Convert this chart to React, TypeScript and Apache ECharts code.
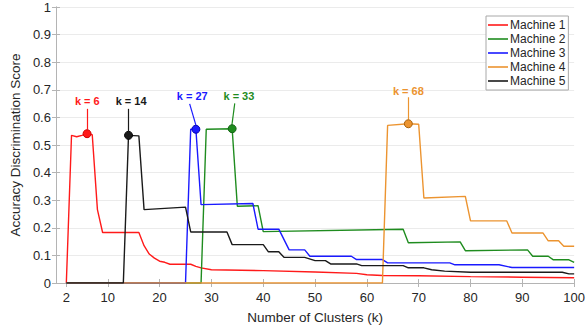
import React, { useEffect, useRef } from "react";
import * as echarts from "echarts";

const seriesNames = ["Machine 1", "Machine 2", "Machine 3", "Machine 4", "Machine 5"];

const machine1: [number, number][] = [
  [2, 0], [3, 0.535], [4, 0.53], [5, 0.535], [6, 0.541], [7, 0.537], [8, 0.266], [9, 0.183],
  [16, 0.183], [17, 0.135], [18, 0.105], [19, 0.09], [20, 0.079], [21, 0.075], [22, 0.068],
  [26, 0.068], [27, 0.06], [28, 0.055], [30, 0.048], [40, 0.045], [50, 0.04], [58, 0.035],
  [60, 0.03], [63, 0.027], [70, 0.026], [80, 0.023], [90, 0.021], [100, 0.019],
];
const machine2: [number, number][] = [
  [2, 0], [28, 0], [29, 0.557], [34, 0.559], [35, 0.278], [39, 0.28], [40, 0.186], [67, 0.195],
  [68, 0.146], [78, 0.149], [79, 0.117], [91, 0.12], [92, 0.097], [95, 0.097], [96, 0.084],
  [99, 0.084], [100, 0.075],
];
const machine3: [number, number][] = [
  [2, 0], [25, 0], [26, 0.557], [27, 0.557], [28, 0.284], [38, 0.288], [39, 0.195], [43, 0.195],
  [45, 0.12], [48, 0.12], [49, 0.097], [57, 0.097], [58, 0.085], [63, 0.085], [64, 0.073],
  [76, 0.073], [77, 0.066], [85.5, 0.066], [88, 0.056], [100, 0.056],
];
const machine4: [number, number][] = [
  [2, 0], [63, 0], [64, 0.571], [68, 0.577], [70, 0.575], [71, 0.308], [79, 0.314], [80, 0.225],
  [87, 0.225], [88, 0.181], [94, 0.181], [95, 0.153], [97, 0.153], [98, 0.133], [100, 0.133],
];
const machine5: [number, number][] = [
  [2, 0], [13, 0], [14, 0.535], [16, 0.533], [17, 0.266], [25, 0.275], [26, 0.185], [33, 0.185],
  [34, 0.139], [40, 0.139], [41, 0.113], [43, 0.113], [44, 0.093], [48, 0.093], [50, 0.081],
  [52, 0.081], [53, 0.069], [58, 0.069], [59, 0.063], [67, 0.063], [68, 0.055], [71, 0.055],
  [72.5, 0.048], [75, 0.043], [80, 0.039], [97.7, 0.039], [99, 0.033], [100, 0.033],
];
const allSeries = [machine1, machine2, machine3, machine4, machine5];

const peakK = [6, 34, 27, 68, 14];
const peakLabels = ["k = 6", "k = 33", "k = 27", "k = 68", "k = 14"];
const labelAt: [number, number][] = [[6.05, 0.659], [35.3, 0.676], [26.3, 0.676], [68, 0.694], [14.5, 0.66]];
const arrowFrom: [number, number][] = [[6, 0.631], [34.5, 0.651], [25.8, 0.649], [68, 0.673], [14, 0.631]];
const arrowTo: [number, number][] = [[6, 0.556], [33.95, 0.572], [27, 0.572], [68, 0.592], [14, 0.55]];

const xTicks = [2, 10, 20, 30, 40, 50, 60, 70, 80, 90, 100];

const colors = ["#ff1a1a", "#1f8c1f", "#1a1aff", "#ec9430", "#1a1a1a"];
const dotBorders = ["#d00000", "#146414", "#0000b0", "#a8600a", "#000000"];

const FONT = "Liberation Sans, Arial, Helvetica, sans-serif";
const AXIS_COLOR = "#b4b4b4";
const TEXT_COLOR = "#262626";

export default function App() {
  const ref = useRef<HTMLDivElement>(null);
  useEffect(() => {
    if (!ref.current) return;
    const chart = echarts.init(ref.current, undefined, { renderer: "svg" });

    const lineSeries = allSeries.map((data, i) => {
      const peak = data.find((p) => p[0] === peakK[i]) as [number, number];
      return {
        name: seriesNames[i],
        type: "line",
        data,
        symbol: "none",
        showSymbol: false,
        color: colors[i],
        lineStyle: { color: colors[i], width: 1.4 },
        xAxisIndex: 0,
        yAxisIndex: 0,
        markLine: {
          silent: true,
          symbol: ["none", "arrow"],
          symbolSize: [0, 6],
          label: { show: false },
          lineStyle: { color: colors[i], width: 1.2, type: "solid" },
          emphasis: { disabled: true },
          data: [[{ coord: arrowFrom[i] }, { coord: arrowTo[i] }]],
        },
        markPoint: {
          silent: true,
          data: [
            {
              coord: peak,
              symbol: "circle",
              symbolSize: 8,
              itemStyle: { color: colors[i], borderColor: dotBorders[i], borderWidth: 1 },
              label: { show: false },
            },
            {
              coord: labelAt[i],
              symbol: "circle",
              symbolSize: 1,
              itemStyle: { color: "rgba(0,0,0,0)" },
              label: {
                show: true,
                position: "inside",
                formatter: peakLabels[i],
                color: colors[i],
                fontFamily: FONT,
                fontWeight: "bold",
                fontSize: 11,
              },
            },
          ],
        },
      };
    });

    const option: any = {
      animation: false,
      backgroundColor: "#ffffff",
      textStyle: { fontFamily: FONT },
      grid: { left: 50, right: 9, top: 7, bottom: 43, containLabel: false },
      legend: {
        data: seriesNames.map((n) => ({ name: n, icon: "rect" })),
        orient: "vertical",
        left: 486,
        top: 16,
        padding: [3, 3, 3, 2],
        itemGap: 2,
        itemWidth: 20,
        itemHeight: 1.6,
        backgroundColor: "#ffffff",
        borderColor: "#a8a8a8",
        borderWidth: 1,
        textStyle: { fontFamily: FONT, fontSize: 12, color: TEXT_COLOR, padding: [0, 0, 0, -3], lineHeight: 12 },
        selectedMode: false,
      },
      xAxis: [
        {
          type: "value",
          min: 0,
          max: 100,
          position: "bottom",
          name: "Number of Clusters (k)",
          nameLocation: "middle",
          nameGap: 27,
          nameTextStyle: { fontFamily: FONT, fontSize: 13.5, color: TEXT_COLOR },
          axisLine: { show: true, lineStyle: { color: AXIS_COLOR, width: 1 } },
          axisTick: { show: true, inside: true, length: 4, customValues: xTicks, lineStyle: { color: AXIS_COLOR } },
          axisLabel: { customValues: xTicks, color: TEXT_COLOR, fontSize: 13, fontFamily: FONT, margin: 8 },
          splitLine: { show: false },
        },
        {
          type: "value",
          min: 0,
          max: 100,
          position: "top",
          axisLine: { show: true, lineStyle: { color: AXIS_COLOR, width: 1 } },
          axisTick: { show: true, inside: true, length: 4, customValues: xTicks, lineStyle: { color: AXIS_COLOR } },
          axisLabel: { show: false },
          splitLine: { show: false },
        },
      ],
      yAxis: [
        {
          type: "value",
          min: 0,
          max: 1,
          interval: 0.1,
          position: "left",
          name: "Accuracy Discrimination Score",
          nameLocation: "middle",
          nameGap: 22,
          nameTextStyle: { fontFamily: FONT, fontSize: 13.5, color: TEXT_COLOR },
          axisLine: { show: true, lineStyle: { color: AXIS_COLOR, width: 1 } },
          axisTick: { show: true, inside: true, length: 4, lineStyle: { color: AXIS_COLOR } },
          axisLabel: {
            color: TEXT_COLOR,
            fontSize: 13,
            fontFamily: FONT,
            margin: 5,
            formatter: (v: number) => (v === 0 ? "0" : v === 1 ? "1" : v.toFixed(1)),
          },
          splitLine: { show: true, lineStyle: { color: "#ebebeb", width: 1 } },
        },
        {
          type: "value",
          min: 0,
          max: 1,
          interval: 0.1,
          position: "right",
          axisLine: { show: true, lineStyle: { color: AXIS_COLOR, width: 1 } },
          axisTick: { show: true, inside: true, length: 4, lineStyle: { color: AXIS_COLOR } },
          axisLabel: { show: false },
          splitLine: { show: false },
        },
      ],
      series: lineSeries,
    };
    chart.setOption(option);
    return () => chart.dispose();
  }, []);
  return <div ref={ref} style={{ width: 588, height: 329, position: "absolute", left: 0, top: 0 }} />;
}
